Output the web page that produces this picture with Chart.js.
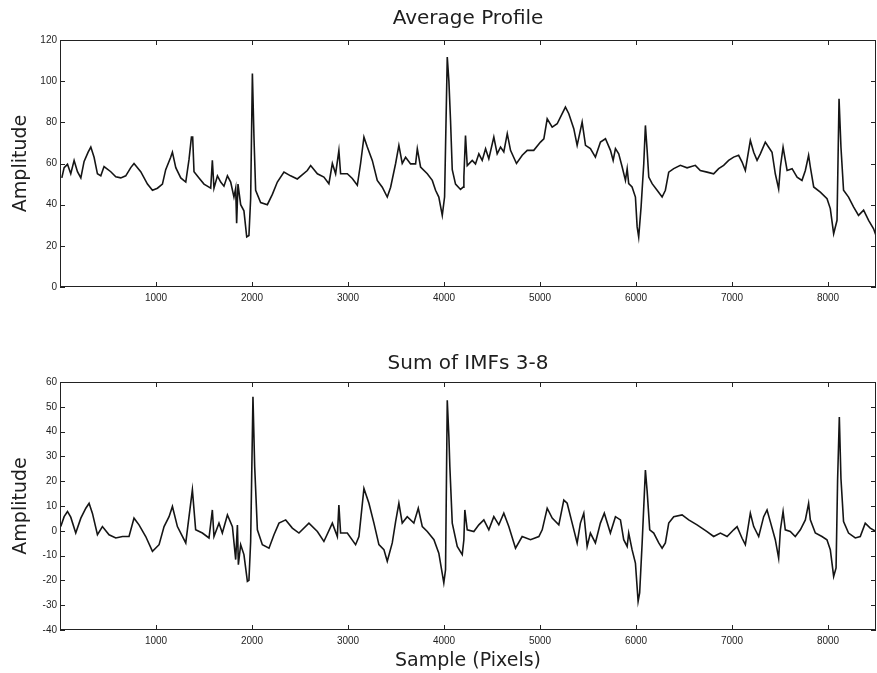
<!DOCTYPE html>
<html>
<head>
<meta charset="utf-8">
<script src="https://cdn.jsdelivr.net/npm/chart.js@4.4.1/dist/chart.umd.min.js"></script>
<style>
  html, body { margin: 0; padding: 0; background: #fff; }
  body { width: 877px; height: 673px; position: relative; overflow: hidden; }
  canvas { position: absolute; left: 0; }
  #profileChart { top: 0; }
  #imfChart { top: 320px; }
</style>
</head>
<body>
<canvas id="profileChart" width="877" height="310"></canvas>
<canvas id="imfChart" width="877" height="353"></canvas>
<script>
// Average profile (top panel)
const profileSamples = [19, 43, 78, 112, 147, 182, 217, 251, 293, 321, 355, 390, 425, 459, 529, 581, 633, 685, 737, 771,
    841, 911, 963, 1015, 1067, 1101, 1153, 1171, 1206, 1258, 1310, 1344, 1369, 1382, 1396, 1448, 1500, 1535, 1570, 1587,
    1604, 1640, 1674, 1708, 1744, 1778, 1812, 1830, 1840, 1854, 1882, 1916, 1945, 1968, 1986, 2004, 2021, 2038, 2090, 2160,
    2212, 2264, 2333, 2402, 2472, 2576, 2611, 2681, 2749, 2801, 2837, 2871, 2905, 2923, 2993, 3045, 3097, 3131, 3166, 3201,
    3253, 3305, 3357, 3409, 3444, 3496, 3530, 3565, 3600, 3652, 3704, 3722, 3756, 3826, 3878, 3912, 3946, 3982, 4006, 4034,
    4051, 4068, 4086, 4120, 4172, 4200, 4207, 4224, 4242, 4294, 4328, 4363, 4398, 4433, 4467, 4519, 4554, 4589, 4623, 4659,
    4693, 4755, 4815, 4867, 4935, 5005, 5040, 5075, 5127, 5179, 5231, 5265, 5300, 5352, 5387, 5439, 5474, 5525, 5577, 5630,
    5682, 5734, 5762, 5786, 5820, 5856, 5890, 5908, 5924, 5959, 5994, 6012, 6028, 6053, 6081, 6098, 6116, 6133, 6168, 6220,
    6272, 6306, 6341, 6393, 6462, 6532, 6618, 6670, 6740, 6809, 6861, 6913, 6965, 7017, 7069, 7105, 7139, 7191, 7226, 7261,
    7295, 7347, 7382, 7417, 7451, 7486, 7504, 7532, 7574, 7626, 7678, 7729, 7764, 7798, 7816, 7851, 7920, 7990, 8024, 8059,
    8094, 8115, 8135, 8162, 8214, 8266, 8318, 8371, 8423, 8475, 8500];
const profileAmplitude = [53, 58, 59.6, 55, 61.5, 56, 53, 61, 65.5, 68, 63, 55, 54, 58.5, 56, 53.5, 53, 54, 58, 60,
    56, 50, 47, 48, 50, 57, 63, 65.5, 58, 53, 51, 62, 72.8, 72.8, 56, 53, 50, 49, 48, 61.5,
    48, 54, 51, 49, 54, 51, 43.7, 48, 31, 50, 40, 37, 24.3, 25, 43, 103.7, 72, 47, 41, 40,
    45, 51, 55.8, 54, 52.5, 56.6, 59, 55, 53.4, 50.2, 60, 55, 66.3, 55, 55, 52.7, 49.4, 60, 72.8, 68,
    61.5, 51.8, 48.5, 43.7, 48.5, 60, 68.8, 60, 63, 59.8, 59.8, 67.2, 58.3, 55, 51.8, 47, 43.7, 34.8, 43.7, 111.7,
    100, 81, 57, 50, 47.4, 48.5, 53.4, 73.6, 59, 61.5, 59.8, 64.7, 61.5, 67.2, 62.3, 72.8, 64.7, 68, 65.6, 74.5,
    66.4, 60, 64, 66.4, 66.4, 70.4, 72, 81.7, 77.7, 79.3, 84.2, 87.4, 84.2, 76.9, 68.8, 80.1, 68.8, 67.2, 63.1, 70.4,
    72, 66.4, 61.5, 67.2, 64.7, 58.3, 51.8, 57.5, 50.2, 48.6, 43.7, 29.2, 24.3, 38.9, 60, 78.5, 66.4, 53.4, 50.2, 47,
    43.7, 47, 55.8, 57.5, 59.1, 57.9, 59.1, 56.6, 55.8, 55, 57.5, 59.1, 61.5, 63.1, 64, 60.7, 56.6, 71.2, 65.5, 61.5,
    64.7, 70.4, 67.9, 65.5, 55, 47.7, 58.3, 67.9, 56.6, 57.5, 53.4, 51.8, 56.6, 64, 58.3, 48.6, 46.1, 42.9, 38.1, 25.9,
    32.4, 91.4, 67.9, 47, 43.7, 38.9, 34.8, 37.3, 32.4, 28.3, 25];

// Sum of IMFs 3-8 (bottom panel)
const imfSamples = [8, 43, 78, 112, 164, 217, 269, 303, 338, 390, 442, 511, 581, 651, 719, 771, 823, 893, 963, 1032,
    1084, 1136, 1171, 1223, 1310, 1344, 1379, 1413, 1483, 1552, 1587, 1604, 1656, 1691, 1744, 1796, 1830, 1848, 1858, 1882,
    1916, 1952, 1968, 1986, 2010, 2028, 2056, 2108, 2177, 2229, 2281, 2351, 2420, 2489, 2593, 2681, 2749, 2837, 2889, 2905,
    2923, 2993, 3079, 3114, 3166, 3218, 3270, 3322, 3374, 3409, 3461, 3496, 3530, 3565, 3617, 3686, 3732, 3774, 3826, 3895,
    3946, 3998, 4016, 4034, 4051, 4061, 4086, 4138, 4190, 4207, 4217, 4242, 4311, 4363, 4415, 4467, 4519, 4571, 4623, 4675,
    4745, 4814, 4901, 4988, 5023, 5075, 5127, 5196, 5248, 5283, 5335, 5387, 5421, 5456, 5491, 5525, 5577, 5629, 5670, 5733,
    5786, 5838, 5872, 5908, 5924, 5959, 5994, 6022, 6038, 6064, 6098, 6116, 6143, 6185, 6237, 6272, 6306, 6341, 6393, 6480,
    6549, 6636, 6740, 6809, 6879, 6949, 7017, 7053, 7105, 7139, 7191, 7226, 7278, 7330, 7365, 7399, 7451, 7486, 7504, 7532,
    7555, 7607, 7659, 7712, 7764, 7798, 7816, 7868, 7937, 7989, 8024, 8059, 8084, 8100, 8118, 8135, 8162, 8214, 8284, 8336,
    8388, 8440, 8500];
const imfAmplitude = [1.7, 5.7, 7.8, 5.5, -0.9, 5.1, 9.1, 11.1, 7, -1.6, 1.7, -1.6, -2.9, -2.3, -2.3, 5.1, 2.4, -2.3, -8.3, -5.6,
    1.7, 5.7, 9.8, 1.7, -4.9, 5.7, 16.5, 0.4, -0.9, -2.9, 8.4, -2.3, 3.1, -0.9, 6.4, 1.7, -11.6, 2.3, -13.7, -5.6,
    -9.6, -20.4, -20, -4.3, 54, 25.8, 0.4, -5.6, -7, -1.6, 3.1, 4.4, 1.1, -0.9, 3.1, -0.3, -4.3, 3.1, -2.3, 10.4,
    -0.9, -0.9, -5.6, -2.3, 17.1, 11.1, 3.1, -5.6, -7.6, -12.3, -4.9, 3.7, 11.1, 3.1, 5.7, 3.1, 9.1, 1.7, -0.3, -3.6,
    -9, -21, -15.7, 52.6, 37.9, 25.8, 3.1, -6.3, -9.6, -3.6, 8.4, 0.4, -0.3, 2.4, 4.4, 0.4, 5.7, 2.4, 7.1, 1.7,
    -7, -2.3, -3.6, -2.3, 0.4, 9.1, 5.1, 2.4, 12.4, 11.1, 3.1, -4.9, 3.1, 7.1, -6.3, -0.9, -4.9, 3.1, 7.1, -0.9,
    5.7, 4.4, -3.6, -6.3, -0.9, -7.6, -13, -28.4, -25, -4.9, 24.5, 16, 0.4, -0.9, -4.9, -7, -4.9, 3.1, 5.7, 6.4,
    4.4, 2.4, -0.3, -2.3, -0.9, -2.3, 0.4, 1.7, -3, -5.6, 7.1, 1.7, -2.3, 5.7, 8.4, 3.7, -3.6, -11, 0.4, 7.8,
    0.4, -0.3, -2.3, 0.4, 4.4, 11.1, 4.4, -0.9, -2.3, -3.6, -7.6, -18.4, -15, 20.5, 45.9, 21, 3.7, -0.9, -2.9, -2.3,
    3.1, 1.1, -0.3];

const sampleTicks = [1000, 2000, 3000, 4000, 5000, 6000, 7000, 8000];

const TEXT = '#1e1e1e';
const bigFont = { family: 'DejaVu Sans', size: 19 };
const tickFont = { family: 'Liberation Sans', size: 10 };

// MATLAB style: box round the plot, short ticks pointing inward on all four sides
const boxTicks = {
    id: 'boxTicks',
    afterDraw(chart) {
        const { ctx, chartArea: a, scales } = chart;
        const len = 5;
        ctx.save();
        ctx.strokeStyle = '#222';
        ctx.lineWidth = 1;
        ctx.strokeRect(a.left + 0.5, a.top + 0.5, a.right - a.left - 1, a.bottom - a.top - 1);
        ctx.beginPath();
        scales.x.ticks.forEach(t => {
            const px = Math.round(scales.x.getPixelForValue(t.value)) + 0.5;
            ctx.moveTo(px, a.bottom); ctx.lineTo(px, a.bottom - len);
            ctx.moveTo(px, a.top); ctx.lineTo(px, a.top + len);
        });
        scales.y.ticks.forEach(t => {
            const py = Math.round(scales.y.getPixelForValue(t.value)) + 0.5;
            ctx.moveTo(a.left, py); ctx.lineTo(a.left + len, py);
            ctx.moveTo(a.right, py); ctx.lineTo(a.right - len, py);
        });
        ctx.stroke();
        ctx.restore();
    }
};

function makeChart(id, opts) {
    const points = opts.samples.map((s, i) => ({ x: s, y: opts.values[i] }));
    return new Chart(document.getElementById(id), {
        type: 'line',
        data: {
            datasets: [{
                data: points,
                borderColor: '#151515',
                borderWidth: 1.6,
                pointRadius: 0,
                tension: 0,
                fill: false
            }]
        },
        options: {
            responsive: false,
            animation: false,
            events: [],
            layout: { padding: { left: 0, right: 1, top: 0, bottom: 0 } },
            plugins: {
                legend: { display: false },
                tooltip: { enabled: false },
                title: {
                    display: true,
                    text: opts.title,
                    fullSize: false,
                    color: TEXT,
                    font: { family: 'DejaVu Sans', size: 20, weight: 'normal' },
                    padding: opts.titlePad
                }
            },
            scales: {
                x: {
                    type: 'linear',
                    min: 0,
                    max: 8500,
                    grid: { display: false, drawTicks: false },
                    border: { display: false },
                    afterBuildTicks: scale => { scale.ticks = sampleTicks.map(v => ({ value: v })); },
                    afterFit: scale => { scale.height = opts.xHeight; },
                    ticks: { color: TEXT, font: tickFont, padding: 5, maxRotation: 0, callback: v => String(v) },
                    title: {
                        display: !!opts.xTitle,
                        text: opts.xTitle || '',
                        color: TEXT,
                        font: bigFont,
                        padding: { top: 0, bottom: 1 }
                    }
                },
                y: {
                    min: opts.yMin,
                    max: opts.yMax,
                    grid: { display: false, drawTicks: false },
                    border: { display: false },
                    afterFit: scale => { scale.width = 60; },
                    ticks: { stepSize: opts.yStep, color: TEXT, font: tickFont, padding: 3 },
                    title: {
                        display: true,
                        text: 'Amplitude',
                        color: TEXT,
                        font: bigFont,
                        padding: { top: 10, bottom: 0 }
                    }
                }
            }
        },
        plugins: [boxTicks]
    });
}

makeChart('profileChart', {
    title: 'Average Profile',
    titlePad: { top: 7, bottom: 9 },
    samples: profileSamples,
    values: profileAmplitude,
    yMin: 0, yMax: 120, yStep: 20,
    xHeight: 23
});

makeChart('imfChart', {
    title: 'Sum of IMFs 3-8',
    titlePad: { top: 32, bottom: 6 },
    samples: imfSamples,
    values: imfAmplitude,
    yMin: -40, yMax: 60, yStep: 10,
    xHeight: 43,
    xTitle: 'Sample (Pixels)'
});
</script>
</body>
</html>
